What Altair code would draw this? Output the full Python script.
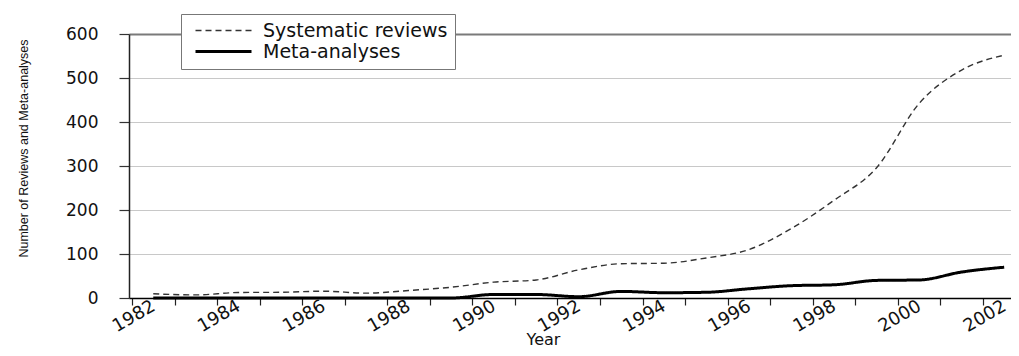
import altair as alt
import pandas as pd

years = list(range(1982, 2003))
systematic_reviews = [9.5, 7, 12.5, 13, 15.5, 11, 17, 24.5, 36, 41, 64, 78, 79, 91,
                      110, 158, 222, 296, 442, 518, 552]
meta_analyses = [0, 0, 0, 0, 0, 0, 0, 0, 8, 8, 3, 15, 12, 13,
                 21, 28, 30, 40, 41, 59, 70]
series_names = ["Systematic reviews", "Meta-analyses"]
y_ticks = [0, 100, 200, 300, 400, 500, 600]
x_ticks = years

df = pd.DataFrame({
    "Year": years,
    series_names[0]: systematic_reviews,
    series_names[1]: meta_analyses,
})

FONT = "DejaVu Sans"
NARROW = "Liberation Sans"

x_axis = alt.Axis(
    values=x_ticks, format="d",
    labelExpr="datum.value % 2 === 0 ? datum.label : ''",
    labelAngle=-30, labelAlign="right", labelBaseline="top",
    labelOffset=17, labelPadding=-8, labelOverlap=False,
    labelFont=FONT, labelFontSize=18, labelColor="#111111",
    tickSize=7, tickColor="#222222", tickWidth=1.2,
    domainColor="#000000", domainWidth=1.5,
    grid=False,
    title="Year", titleFont=FONT, titleFontSize=16, titleFontWeight="normal",
    titleColor="#111111", titleX=414, titleY=46, titleAlign="center",
    titleBaseline="alphabetic",
)

y_axis = alt.Axis(
    values=y_ticks, format="d",
    labelFont=FONT, labelFontSize=17, labelColor="#111111", labelPadding=21,
    tickSize=10, tickColor="#333333", tickWidth=1.2,
    domainColor="#222222", domainWidth=1.5,
    grid=True,
    gridColor={"condition": {"test": "datum.value === 600", "value": "#7a7a7a"}, "value": "#c8c8c8"},
    gridWidth={"condition": {"test": "datum.value === 600", "value": 2.2}, "value": 1.2},
    title="Number of Reviews and Meta-analyses",
    titleFont=NARROW, titleFontSize=12.5, titleFontWeight="normal", titleColor="#111111",
    titleX=-106, titleY=114, titleAlign="center", titleBaseline="middle", titleAngle=270,
)

chart = alt.Chart(df).transform_fold(
    series_names, as_=["Series", "Count"]
).transform_calculate(
    MidYear="datum.Year + 0.5"
).mark_line(interpolate="monotone").encode(
    x=alt.X("MidYear:Q", scale=alt.Scale(domain=[1981.93, 2002.66], nice=False, zero=False), axis=x_axis),
    y=alt.Y("Count:Q", scale=alt.Scale(domain=[0, 600], nice=False), axis=y_axis),
    strokeDash=alt.StrokeDash("Series:N", scale=alt.Scale(domain=series_names, range=[[6, 4], [1, 0]]),
                              legend=alt.Legend(title=None)),
    strokeWidth=alt.StrokeWidth("Series:N", scale=alt.Scale(domain=series_names, range=[1.4, 3.0]),
                                legend=alt.Legend(title=None)),
    color=alt.Color("Series:N", scale=alt.Scale(domain=series_names, range=["#333333", "#000000"]),
                    legend=alt.Legend(title=None)),
).properties(
    width=882, height=264,
    autosize=alt.AutoSizeParams(type="none"),
    padding={"left": 121, "top": 26, "right": 0, "bottom": 50},
).configure_view(
    strokeWidth=0
).configure_legend(
    orient="none", legendX=52, legendY=-20,
    symbolType="M-4,0H4", symbolSize=196, symbolOffset=26,
    labelFont=FONT, labelFontSize=19, labelColor="#111111", labelOffset=30, labelLimit=400,
    padding=7, rowPadding=1,
    strokeColor="#777777", fillColor="#ffffff",
)

chart.save("out.html", embed_options={"renderer": "svg", "actions": False})
